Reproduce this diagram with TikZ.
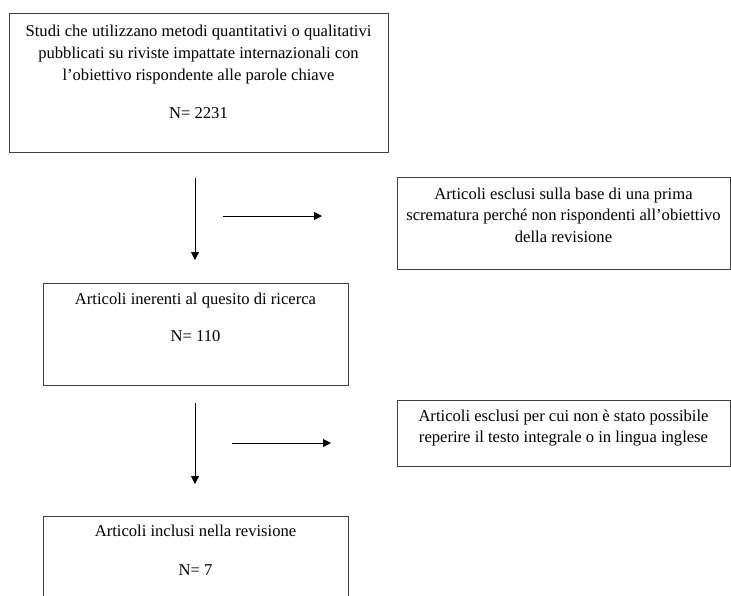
\documentclass[tikz,border=0pt]{standalone}
\usepackage{fontspec}
\setmainfont{Liberation Serif}
\usetikzlibrary{arrows.meta}
\begin{document}
\begin{tikzpicture}[x=1pt,y=-1pt,
  box/.style={draw=black!75, line width=1pt, rectangle, inner sep=0pt, anchor=north west},
  txt/.style={font=\fontsize{16.6}{21.6}\selectfont, align=center, inner sep=0pt, anchor=base},
  flow/.style={line width=1pt, -{Triangle[length=8pt,width=8pt]}}]
\useasboundingbox (0,0) rectangle (731,595);
\clip (0,0) rectangle (731,595);

% boxes
\node[box, minimum width=379pt, minimum height=139pt] (b1) at (9,13) {};
\node[box, minimum width=333pt, minimum height=92pt]  (b2) at (397,177) {};
\node[box, minimum width=305pt, minimum height=102pt] (b3) at (43,283) {};
\node[box, minimum width=333pt, minimum height=66pt]  (b4) at (397,400) {};
\node[box, minimum width=305pt, minimum height=110pt] (b5) at (43,516) {};

% texts (a multi-line node sits on the baseline of its last line)
\node[txt] (t1) at (198.5,80) {Studi che utilizzano metodi quantitativi o qualitativi\\pubblicati su riviste impattate internazionali con\\l’obiettivo rispondente alle parole chiave};
\node[txt] (n1) at (198.5,118) {N= 2231};
\node[txt] (t2) at (563.5,242.2) {Articoli esclusi sulla base di una prima\\scrematura perché non rispondenti all’obiettivo\\della revisione};
\node[txt] (t3) at (195.5,304.3) {Articoli inerenti al quesito di ricerca};
\node[txt] (n3) at (195.5,341.7) {N= 110};
\node[txt] (t4) at (563.5,442.6) {Articoli esclusi per cui non è stato possibile\\reperire il testo integrale o in lingua inglese};
\node[txt] (t5) at (195.5,536.7) {Articoli inclusi nella revisione};
\node[txt] (n5) at (195.5,575) {N= 7};

% arrows
\coordinate (v1s) at (195,178);
\coordinate (v1e) at (195,260);
\coordinate (h1s) at (223,216);
\coordinate (h1e) at (322,216);
\coordinate (v2s) at (195,403);
\coordinate (v2e) at (195,484);
\coordinate (h2s) at (232,443);
\coordinate (h2e) at (331,443);
\draw[flow] (v1s) -- (v1e);
\draw[flow] (h1s) -- (h1e);
\draw[flow] (v2s) -- (v2e);
\draw[flow] (h2s) -- (h2e);
\end{tikzpicture}
\end{document}
